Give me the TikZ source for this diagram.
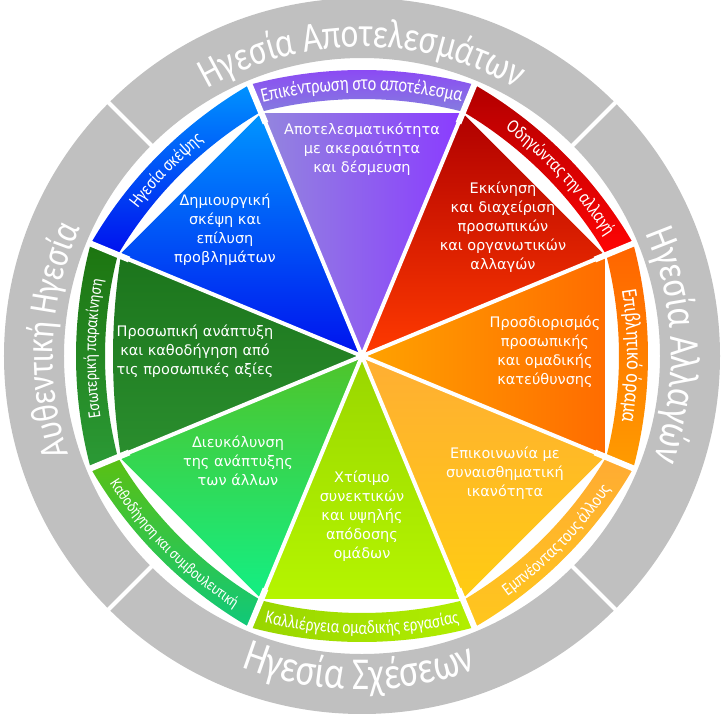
\documentclass[tikz,border=0pt]{standalone}
\usepackage{fontspec}
\usetikzlibrary{decorations.text}
\newfontfamily\piefont{DejaVu Sans}
\newfontfamily\ringfont[FakeStretch=0.8]{Carlito}
\newcommand\pietx{\piefont\fontsize{14.5}{19}\selectfont}
\newcommand\bt[1]{\ringfont\fontsize{#1}{#1}\selectfont}
\definecolor{graycol}{HTML}{C0C0C0}
\definecolor{puL}{HTML}{9386DE}\definecolor{puR}{HTML}{8A3BFF}
\definecolor{rdT}{HTML}{B00000}\definecolor{rdB}{HTML}{FF3A00}
\definecolor{orL}{HTML}{FFA300}\definecolor{orR}{HTML}{FF6C00}
\definecolor{loT}{HTML}{FFAE33}\definecolor{loB}{HTML}{FFCC12}
\definecolor{liT}{HTML}{99D600}\definecolor{liB}{HTML}{B5F500}
\definecolor{lgT}{HTML}{4FC42A}\definecolor{lgB}{HTML}{13EF84}
\definecolor{dgT}{HTML}{1C751C}\definecolor{dgB}{HTML}{2A8E2E}
\definecolor{blT}{HTML}{0096FF}\definecolor{blB}{HTML}{0012EE}
\definecolor{bpuT}{HTML}{8C45F6}\definecolor{bpuB}{HTML}{857CDF}
\definecolor{brdT}{HTML}{B20000}\definecolor{brdB}{HTML}{FF0404}
\definecolor{borT}{HTML}{FF6400}\definecolor{borB}{HTML}{FF9C00}
\definecolor{bloT}{HTML}{FFAB33}\definecolor{bloB}{HTML}{FFC71D}
\definecolor{bliL}{HTML}{98D500}\definecolor{bliR}{HTML}{B2EF00}
\definecolor{bgrT}{HTML}{5BC012}\definecolor{bgrB}{HTML}{0FC97A}
\definecolor{bdgT}{HTML}{1D7510}\definecolor{bdgB}{HTML}{2B9A36}
\definecolor{bblT}{HTML}{0093FF}\definecolor{bblB}{HTML}{0010EE}
\begin{document}
\begin{tikzpicture}[x=1pt,y=1pt,
  pietext/.style={text=white, font=\pietx, align=center, inner sep=0pt},
  segP/.style={left color=puL, right color=puR},
  segR/.style={top color=rdT, bottom color=rdB},
  segO/.style={left color=orL, right color=orR},
  segLO/.style={top color=loT, bottom color=loB},
  segLI/.style={top color=liT, bottom color=liB},
  segLG/.style={top color=lgT, bottom color=lgB},
  segDG/.style={top color=dgT, bottom color=dgB},
  segB/.style={top color=blT, bottom color=blB},
  bandP/.style={top color=bpuT, bottom color=bpuB},
  bandR/.style={top color=brdT, bottom color=brdB},
  bandO/.style={top color=borT, bottom color=borB},
  bandLO/.style={top color=bloT, bottom color=bloB},
  bandLI/.style={left color=bliL, right color=bliR},
  bandLG/.style={top color=bgrT, bottom color=bgrB},
  bandDG/.style={top color=bdgT, bottom color=bdgB},
  bandB/.style={top color=bblT, bottom color=bblB},
  curved/.style 2 args={decorate, decoration={text along path, text align=center, text color=white, text={|\bt{#1}|#2}}}
]
\path[use as bounding box, fill=white] (-362,-357) rectangle (363,356);
% outer gray ring
\fill[graycol, even odd rule] (0,0) circle (358) (0,0) circle (298);
\foreach \a in {45,135,225,315} \draw[white, line width=4] (\a:294) -- (\a:365);
% pie segments
\foreach \c/\sty in {90/segP, 45/segR, 0/segO, -45/segLO, -90/segLI, -135/segLG, 135/segB}
  \shade[\sty] (0,0) -- (\c-22.5:263) -- (\c+22.5:263) -- cycle;
\shade[segDG] (0,0) -- (157.5:261) arc[start angle=171, end angle=189, radius=639] -- cycle;
% band segments
\foreach \c/\sty in {90/bandP, 45/bandR, 0/bandO, -45/bandLO, -90/bandLI, -135/bandLG, 180/bandDG, 135/bandB}
  \shade[\sty, shift={(\c+180:150)}] (\c-14.94:436) arc[start angle=\c-14.94, end angle=\c+14.94, radius=436]
     -- (\c+14.39:407) arc[start angle=\c+14.39, end angle=\c-14.39, radius=407] -- cycle;
% white dividers
\foreach \a in {22.5,67.5,...,337.5} {
  \draw[white, line width=4] (0,0) -- (\a:266);
  \draw[white, line width=6] (\a:252) -- (\a:297);
}
% gray ring texts
\path[curved={41.6}{Ηγεσία Αποτελεσμάτων}] (135:309) arc[start angle=135, end angle=45, radius=309];
\path[curved={42.5}{Ηγεσία Αλλαγών}] (47:309) arc[start angle=47, end angle=-43, radius=309];
\path[curved={45.7}{Ηγεσία Σχέσεων}] (224.5:334) arc[start angle=224.5, end angle=314.5, radius=334];
\path[curved={39.5}{Αυθεντική Ηγεσία}] (222:309) arc[start angle=222, end angle=132, radius=309];
% band texts (clockwise)
\path[curved={20.4}{Επικέντρωση στο αποτέλεσμα}, shift={(270:150)}] (110:416) arc[start angle=110, end angle=70, radius=416];
\path[curved={19.4}{Οδηγώντας την αλλαγή}, shift={(225:150)}] (64:416) arc[start angle=64, end angle=22, radius=416];
\path[curved={22.2}{Επιβλητικό όραμα}, shift={(180:150)}] (20:415) arc[start angle=20, end angle=-20, radius=415];
\path[curved={18}{Εσωτερική παρακίνηση}, shift={(0:150)}] (199:416) arc[start angle=199, end angle=159, radius=416];
\path[curved={19}{Ηγεσία σκέψης}, shift={(315:150)}] (157:416) arc[start angle=157, end angle=115, radius=416];
% band texts (counter-clockwise)
\path[curved={18.4}{Εμπνέοντας τους άλλους}, shift={(135:150)}] (-64:428) arc[start angle=-64, end angle=-24, radius=428];
\path[curved={18.8}{Καλλιέργεια ομαδικής εργασίας}, shift={(90:150)}] (-110:428) arc[start angle=-110, end angle=-70, radius=428];
\path[curved={16.6}{Καθοδήγηση και συμβουλευτική}, shift={(45:150)}] (-155:428) arc[start angle=-155, end angle=-115, radius=428];
% pie texts
\node[pietext] (t1) at (0,207) {Αποτελεσματικότητα\\με ακεραιότητα\\και δέσμευση};
\node[pietext] (t2) at (141,129) {Εκκίνηση\\και διαχείριση\\προσωπικών\\και οργανωτικών\\αλλαγών};
\node[pietext] (t3) at (183,4) {Προσδιορισμός\\προσωπικής\\και ομαδικής\\κατεύθυνσης};
\node[pietext] (t4) at (143,-117) {Επικοινωνία με\\συναισθηματική\\ικανότητα};
\node[pietext] (t5) at (0,-160) {Χτίσιμο\\συνεκτικών\\και υψηλής\\απόδοσης\\ομάδων};
\node[pietext] (t6) at (-124,-105) {Διευκόλυνση\\της ανάπτυξης\\των άλλων};
\node[pietext] (t7) at (-167,5) {Προσωπική ανάπτυξη\\και καθοδήγηση από\\τις προσωπικές αξίες};
\node[pietext] (t8) at (-137,126) {Δημιουργική\\σκέψη και\\επίλυση\\προβλημάτων};
\end{tikzpicture}
\end{document}
